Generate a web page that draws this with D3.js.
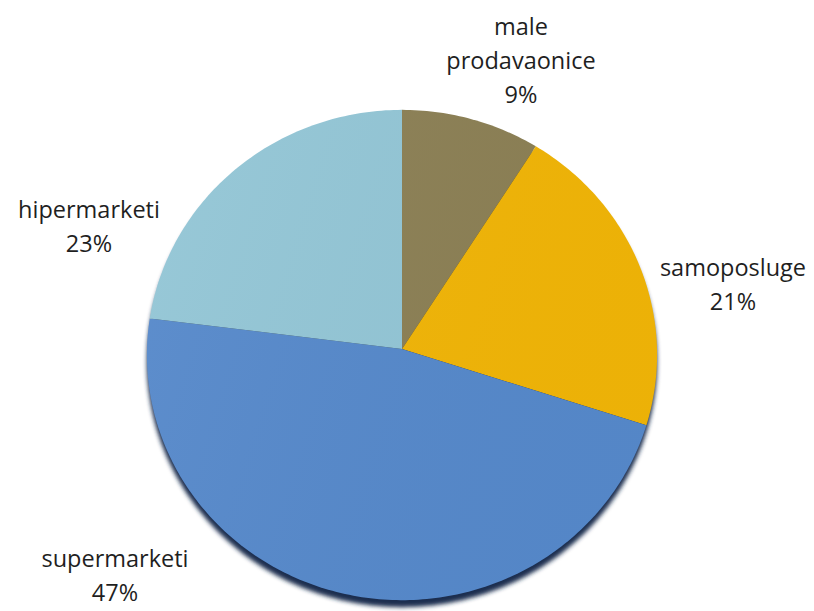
<!DOCTYPE html>
<html>
<head>
<meta charset="utf-8">
<script src="https://cdn.jsdelivr.net/npm/d3@7"></script>
<style>
  body { margin: 0; background: #fff; }
  text { font-family: "Open Sans", sans-serif; fill: #1f1f1f; }
</style>
</head>
<body>
<div id="chart"></div>
<script>
// Shares of sales by store type
var categories = ["male prodavaonice", "samoposluge", "supermarketi", "hipermarketi"];
var values = [9, 21, 47, 23];
var colors = ["#8c8055", "#f1b507", "#5689cb", "#93c6d6"];

// label lines and anchor of each label block (centre x, first baseline y)
var labelLines = [["male", "prodavaonice", "9%"], ["samoposluge", "21%"], ["supermarketi", "47%"], ["hipermarketi", "23%"]];
var labelPos = [[521, 35], [733, 276], [115, 567], [89, 218]];

var width = 814, height = 611;
var cx = 402, cy = 349;
var rx = 255, ry = 245, tilt = 0.0245;   // slight perspective: lower half looks nearer

var svg = d3.select("#chart").append("svg")
    .attr("width", width)
    .attr("height", height);

var defs = svg.append("defs");
defs.append("filter").attr("id", "blur")
    .append("feGaussianBlur").attr("stdDeviation", 2);
var grad = defs.append("linearGradient").attr("id", "shade")
    .attr("x1", "0").attr("y1", "0").attr("x2", "1").attr("y2", "0.3");
grad.append("stop").attr("offset", "0").attr("stop-color", "#fff").attr("stop-opacity", 0.05);
grad.append("stop").attr("offset", "1").attr("stop-color", "#000").attr("stop-opacity", 0.02);

// project a point of the unit disc (angle from 12 o'clock, clockwise)
function project(a, r) {
    var u = Math.sin(a) * r, v = -Math.cos(a) * r;
    var k = 1 - tilt * v;
    return [cx + rx * u / k, cy + ry * v / k];
}

var pie = d3.pie().sort(null).value(d => d);
var arcs = pie(values);

function slicePath(d) {
    var n = Math.max(8, Math.ceil((d.endAngle - d.startAngle) * 60));
    var pts = [[cx, cy]];
    for (var i = 0; i <= n; i++) {
        pts.push(project(d.startAngle + (d.endAngle - d.startAngle) * i / n, 1));
    }
    return d3.line()(pts) + "Z";
}

// whole outline for the drop shadow
var outline = slicePath({ startAngle: 0, endAngle: 2 * Math.PI });

svg.append("path")
    .attr("d", outline)
    .attr("transform", "translate(0,7)")
    .attr("fill", "#1a2f4f")
    .attr("filter", "url(#blur)");

svg.append("g")
    .selectAll("path")
    .data(arcs)
    .enter()
    .append("path")
    .attr("d", slicePath)
    .attr("fill", (d, i) => colors[i]);

svg.append("path")
    .attr("d", outline)
    .attr("fill", "url(#shade)");

// labels
var lineH = 34;
var labels = svg.append("g")
    .selectAll("text")
    .data(categories)
    .enter()
    .append("text")
    .attr("text-anchor", "middle")
    .attr("font-size", 23.5);

labels.selectAll("tspan")
    .data((d, i) => labelLines[i].map(t => ({ t: t, p: labelPos[i] })))
    .enter()
    .append("tspan")
    .attr("x", d => d.p[0])
    .attr("y", (d, j) => d.p[1] + j * lineH)
    .text(d => d.t);
</script>
</body>
</html>
